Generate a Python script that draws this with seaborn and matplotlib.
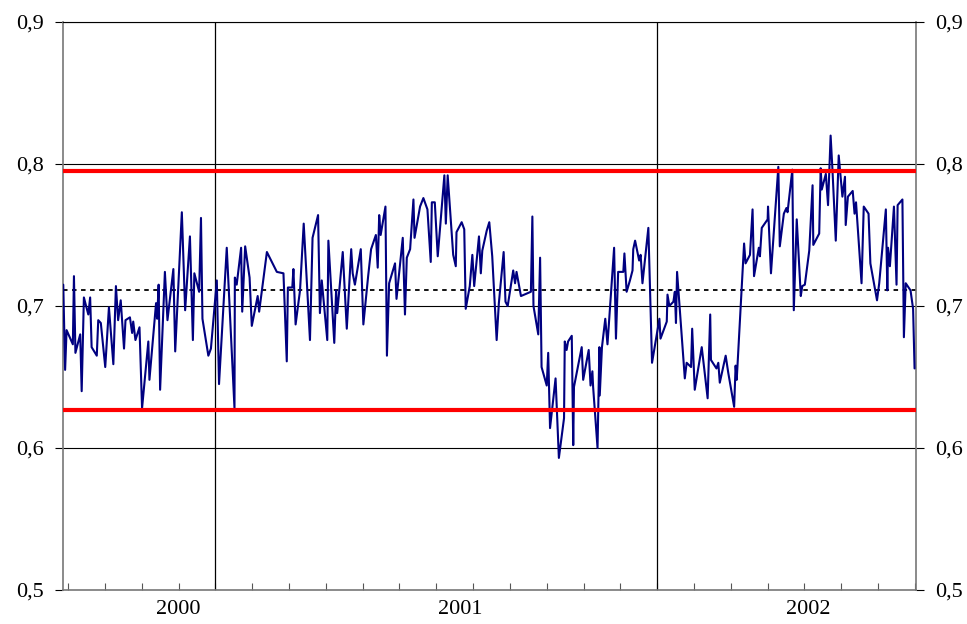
import matplotlib
matplotlib.use('Agg')
import matplotlib.pyplot as plt
import seaborn as sns
import pandas as pd

#######################################################################################################################
# DATA #
#######################################################################################################################

# position on the time axis, in months from the first month tick
Months = [-0.13, -0.08, -0.04, 0.13, 0.16, 0.20, 0.33, 0.37, 0.43, 0.55, 0.60, 0.64, 0.78, 0.82, 0.89, 1.01, 1.11,
          1.23, 1.30, 1.36, 1.43, 1.52, 1.56, 1.68, 1.74, 1.77, 1.83, 1.94, 2.01, 2.18, 2.21, 2.39, 2.42, 2.46, 2.50,
          2.63, 2.70, 2.86, 2.91, 3.09, 3.18, 3.31, 3.39, 3.43, 3.56, 3.61, 3.65, 3.81, 3.88, 4.04, 4.10, 4.31, 4.52,
          4.53, 4.58, 4.70, 4.73, 4.81, 4.93, 4.99, 5.15, 5.19, 5.40, 5.67, 5.85, 5.94, 5.97, 6.09, 6.12, 6.18, 6.30,
          6.40, 6.57, 6.64, 6.79, 6.84, 6.89, 7.04, 7.07, 7.23, 7.28, 7.31, 7.46, 7.57, 7.69, 7.73, 7.79, 7.95, 8.02,
          8.15, 8.23, 8.36, 8.41, 8.45, 8.49, 8.62, 8.66, 8.72, 8.88, 8.92, 9.09, 9.15, 9.20, 9.29, 9.38, 9.41, 9.56,
          9.65, 9.76, 9.85, 9.88, 9.96, 10.04, 10.22, 10.26, 10.31, 10.46, 10.53, 10.55, 10.69, 10.76, 10.80, 10.91,
          10.98, 11.03, 11.16, 11.21, 11.25, 11.37, 11.44, 11.52, 11.64, 11.70, 11.83, 11.88, 11.94, 12.09, 12.14,
          12.18, 12.30, 12.57, 12.61, 12.64, 12.77, 12.82, 12.86, 13.00, 13.04, 13.09, 13.24, 13.33, 13.47, 13.49,
          13.54, 13.58, 13.68, 13.72, 13.74, 13.95, 13.99, 14.14, 14.19, 14.24, 14.26, 14.38, 14.43, 14.44, 14.50,
          14.59, 14.65, 14.83, 14.88, 14.94, 15.08, 15.11, 15.17, 15.26, 15.33, 15.35, 15.40, 15.51, 15.55, 15.60,
          15.76, 15.86, 16.06, 16.09, 16.26, 16.28, 16.33, 16.44, 16.48, 16.51, 16.54, 16.75, 16.80, 16.92, 16.95,
          17.02, 17.21, 17.37, 17.44, 17.46, 17.61, 17.66, 17.70, 17.86, 17.93, 18.09, 18.13, 18.16, 18.27, 18.36,
          18.40, 18.52, 18.59, 18.63, 18.76, 18.79, 18.84, 19.00, 19.01, 19.09, 19.29, 19.33, 19.44, 19.51, 19.54,
          19.67, 19.71, 19.79, 19.90, 19.94, 20.01, 20.13, 20.22, 20.24, 20.40, 20.44, 20.47, 20.58, 20.64, 20.71,
          20.76, 20.85, 20.93, 21.03, 21.10, 21.12, 21.18, 21.31, 21.36, 21.40, 21.55, 21.61, 21.74, 21.79, 21.97,
          22.03, 22.21, 22.25, 22.27, 22.32, 22.43, 22.50, 22.53, 22.66, 22.70, 22.75, 22.88, 22.95, 22.99]

Values = [0.715, 0.655, 0.683, 0.673, 0.721, 0.667, 0.680, 0.640, 0.706, 0.694, 0.706, 0.671, 0.665, 0.690, 0.688,
          0.657, 0.699, 0.659, 0.714, 0.690, 0.704, 0.670, 0.690, 0.692, 0.681, 0.689, 0.676, 0.685, 0.628, 0.675,
          0.648, 0.702, 0.691, 0.715, 0.641, 0.724, 0.690, 0.726, 0.668, 0.766, 0.697, 0.749, 0.676, 0.723, 0.710,
          0.762, 0.691, 0.665, 0.670, 0.718, 0.645, 0.741, 0.628, 0.720, 0.715, 0.741, 0.696, 0.742, 0.720, 0.686,
          0.707, 0.696, 0.738, 0.724, 0.723, 0.661, 0.713, 0.713, 0.726, 0.687, 0.711, 0.758, 0.676, 0.748, 0.764,
          0.695, 0.718, 0.676, 0.746, 0.674, 0.711, 0.695, 0.738, 0.684, 0.740, 0.723, 0.715, 0.740, 0.687, 0.721,
          0.740, 0.750, 0.727, 0.764, 0.750, 0.770, 0.665, 0.716, 0.730, 0.705, 0.748, 0.694, 0.734, 0.740, 0.775,
          0.748, 0.770, 0.776, 0.768, 0.731, 0.773, 0.773, 0.735, 0.792, 0.758, 0.792, 0.736, 0.728, 0.752, 0.759,
          0.754, 0.698, 0.714, 0.736, 0.714, 0.749, 0.723, 0.739, 0.753, 0.759, 0.735, 0.676, 0.702, 0.738, 0.703,
          0.700, 0.725, 0.716, 0.724, 0.707, 0.710, 0.763, 0.700, 0.680, 0.734, 0.657, 0.644, 0.667, 0.614, 0.649,
          0.593, 0.621, 0.675, 0.669, 0.675, 0.679, 0.602, 0.643, 0.671, 0.648, 0.669, 0.644, 0.654, 0.643, 0.600,
          0.671, 0.637, 0.671, 0.691, 0.673, 0.741, 0.677, 0.724, 0.724, 0.737, 0.710, 0.718, 0.725, 0.740, 0.746,
          0.732, 0.736, 0.716, 0.755, 0.660, 0.691, 0.677, 0.689, 0.708, 0.700, 0.703, 0.710, 0.688, 0.724, 0.649,
          0.660, 0.657, 0.684, 0.641, 0.671, 0.635, 0.694, 0.662, 0.656, 0.660, 0.646, 0.665, 0.653, 0.629, 0.658,
          0.648, 0.701, 0.744, 0.730, 0.736, 0.768, 0.721, 0.741, 0.735, 0.755, 0.761, 0.770, 0.723, 0.798, 0.742,
          0.765, 0.769, 0.766, 0.796, 0.697, 0.761, 0.707, 0.714, 0.715, 0.739, 0.785, 0.743, 0.751, 0.797, 0.782,
          0.793, 0.771, 0.820, 0.796, 0.746, 0.806, 0.777, 0.791, 0.757, 0.777, 0.781, 0.765, 0.773, 0.716, 0.770,
          0.765, 0.730, 0.704, 0.716, 0.768, 0.711, 0.741, 0.728, 0.770, 0.715, 0.771, 0.775, 0.678, 0.716, 0.711,
          0.698, 0.656]

Upper_Limit = 0.795
Lower_Limit = 0.627
Mean_Level = 0.711

Year_Labels = ['2000', '2001', '2002']
Year_Positions = [2.99, 10.64, 20.09]
Year_Lines = [4, 16]
Month_Ticks = list(range(24))
Y_Ticks = [0.5, 0.6, 0.7, 0.8, 0.9]

#######################################################################################################################
# PLOT #
#######################################################################################################################

sns.set_style('white')
plt.rcParams['font.family'] = ['Liberation Serif', 'DejaVu Serif']

Data = pd.DataFrame({'Month': Months, 'Value': Values})

Figure = plt.figure(figsize=(9.67, 6.24), dpi=100)
Axis = Figure.add_axes([0.0652, 0.0545, 0.8821, 0.9103])

for Level in Y_Ticks[1:]:
    Axis.axhline(Level, color='black', linewidth=0.8, zorder=1)
for Position in Year_Lines:
    Axis.axvline(Position, color='black', linewidth=0.9, zorder=1)

Axis.axhline(Mean_Level, color='black', linewidth=1.3, linestyle=(0, (2.5, 2.5)), zorder=2)

sns.lineplot(data=Data, x='Month', y='Value', ax=Axis, color='#000080', linewidth=1.5,
             estimator=None, sort=False, zorder=3)

Axis.axhline(Upper_Limit, color='#FF0000', linewidth=3, zorder=4)
Axis.axhline(Lower_Limit, color='#FF0000', linewidth=3, zorder=4)

Axis.set_xlim(-0.136, 23.03)
Axis.set_ylim(0.5, 0.9)
Axis.set_xlabel('')
Axis.set_ylabel('')

Axis.set_yticks(Y_Ticks)
Axis.set_yticklabels([f'{Tick:.1f}'.replace('.', ',') for Tick in Y_Ticks])
Axis.tick_params(axis='y', which='major', direction='out', length=6, width=0.8, pad=8, labelsize=16,
                 left=True, right=True, labelleft=True, labelright=True, colors='black')

Axis.set_xticks(Year_Positions)
Axis.set_xticklabels(Year_Labels)
Axis.set_xticks(Month_Ticks, minor=True)
Axis.tick_params(axis='x', which='major', length=0, pad=7, labelsize=16, colors='black')
Axis.tick_params(axis='x', which='minor', direction='in', length=5, width=0.8, bottom=True, color='#555555')

for Side in ['left', 'right', 'bottom']:
    Axis.spines[Side].set_color('#777777')
    Axis.spines[Side].set_linewidth(1.2)
Axis.spines['top'].set_color('black')
Axis.spines['top'].set_linewidth(0.8)

Figure.savefig('out.png', dpi=100)
